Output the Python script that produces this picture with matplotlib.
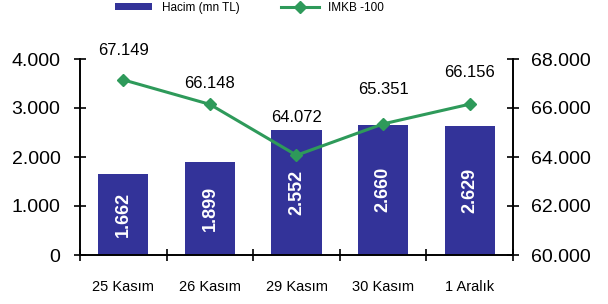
import matplotlib.pyplot as plt
import numpy as np

plt.rcParams['font.family'] = ['Liberation Sans', 'DejaVu Sans']

# Data
dates = ['25 Kasım', '26 Kasım', '29 Kasım', '30 Kasım', '1 Aralık']
hacim = [1662, 1899, 2552, 2660, 2629]
imkb = [67149, 66148, 64072, 65351, 66156]

# label offsets above the line points (points)
label_offsets = [21, 15, 27, 25, 23]

bar_color = '#333399'
line_color = '#2e9a5a'


def dotted(v):
    return '{:,.0f}'.format(v).replace(',', '.')


fig = plt.figure(figsize=(6.08, 3.04), dpi=100)
ax1 = fig.add_axes([80/608, 1-255/304, 433/608, 196/304])
ax2 = ax1.twinx()

x = np.arange(len(dates))
ax1.bar(x, hacim, width=0.58, color=bar_color, label='Hacim (mn TL)', zorder=2)
for xi, v in zip(x, hacim):
    ax1.text(xi, v/2, dotted(v), rotation=90, ha='center', va='center',
             color='white', fontsize=13, fontweight='bold', zorder=3)

ax1.set_xlim(-0.5, len(dates)-0.5)
ax1.set_ylim(0, 4000)
left_ticks = [0, 1000, 2000, 3000, 4000]
ax1.set_yticks(left_ticks)
ax1.set_yticklabels([dotted(v) for v in left_ticks], fontsize=14)
ax1.set_xticks(x)
ax1.set_xticklabels(dates, fontsize=10.5)
ax1.set_xticks(np.arange(-0.5, len(dates), 1), minor=True)
ax1.tick_params(axis='x', which='major', length=0, pad=18)
ax1.tick_params(axis='x', which='minor', length=8, direction='inout', width=1.2)
ax1.tick_params(axis='y', length=8, direction='inout', width=1.2, pad=10)

ax2.plot(x, imkb, color=line_color, marker='D', markersize=6.5, linewidth=2.2,
         label='IMKB -100', zorder=4)
for xi, v, off in zip(x, imkb, label_offsets):
    ax2.annotate(dotted(v), (xi, v), xytext=(0, off), textcoords='offset points',
                 ha='center', va='center', fontsize=12)
ax2.set_ylim(60000, 68000)
right_ticks = [60000, 62000, 64000, 66000, 68000]
ax2.set_yticks(right_ticks)
ax2.set_yticklabels([dotted(v) for v in right_ticks], fontsize=14)
ax2.tick_params(axis='y', length=8, direction='inout', width=1.2, pad=9)
ax1.set_zorder(ax2.get_zorder() - 1)
ax2.patch.set_visible(False)
ax1.patch.set_visible(False)

for ax in (ax1, ax2):
    ax.spines['top'].set_visible(False)
    for s in ('left', 'right', 'bottom'):
        ax.spines[s].set_linewidth(1.2)

h1, l1 = ax1.get_legend_handles_labels()
h2, l2 = ax2.get_legend_handles_labels()
fig.legend(h1 + h2, l1 + l2, loc='upper center', bbox_to_anchor=(0.41, 1.03),
           ncol=2, frameon=False, fontsize=8.5, handlelength=3.2,
           columnspacing=3.5, handleheight=0.5)

fig.savefig('out.png', dpi=100)
